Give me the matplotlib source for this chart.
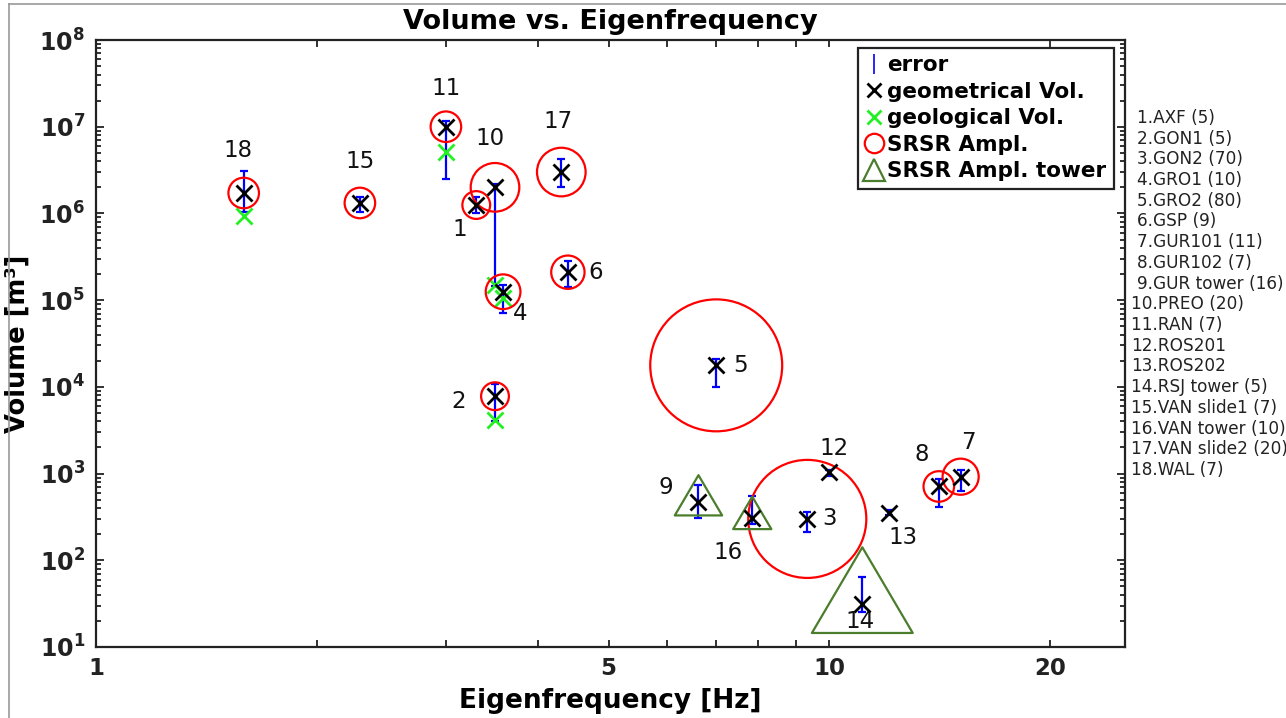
import numpy as np
import matplotlib as mpl
mpl.use('Agg')
import matplotlib.pyplot as plt
from matplotlib.lines import Line2D
from matplotlib.path import Path
from matplotlib.ticker import FixedLocator, LogLocator, NullFormatter, FuncFormatter

mpl.rc('font', family='DejaVu Sans')
mpl.rcParams['mathtext.default'] = 'bf'

# one entry per site, site number = index + 1
site_names = ['AXF (5)', 'GON1 (5)', 'GON2 (70)', 'GRO1 (10)', 'GRO2 (80)', 'GSP (9)',
              'GUR101 (11)', 'GUR102 (7)', 'GUR tower (16)', 'PREO (20)', 'RAN (7)',
              'ROS201', 'ROS202', 'RSJ tower (5)', 'VAN slide1 (7)', 'VAN tower (10)',
              'VAN slide2 (20)', 'WAL (7)']
freq_hz = [3.30, 3.50, 9.33, 3.59, 7.01, 4.40, 15.1, 14.1, 6.63, 3.50, 3.00,
           10.0, 12.07, 11.09, 2.29, 7.85, 4.31, 1.59]
vol_geom = [1.25e6, 7.8e3, 300, 1.25e5, 1.77e4, 2.1e5, 920, 710, 470, 2.0e6, 1.0e7,
            1.05e3, 355, 31, 1.32e6, 305, 3.0e6, 1.72e6]
vol_lo = [1.0e6, 4.0e3, 210, 7.2e4, 1.0e4, 1.4e5, 625, 410, 306, 1.44e5, 2.5e6,
          950, 330, 25, 1.03e6, 263, 2.0e6, 1.03e6]
vol_hi = [1.56e6, 1.07e4, 360, 1.5e5, 2.07e4, 2.8e5, 1090, 860, 730, 2.2e6, 1.15e7,
          1.1e3, 380, 64, 1.56e6, 550, 4.2e6, 3.1e6]
nan = np.nan
vol_geol = [nan, 4.1e3, nan, 1.07e5, nan, nan, nan, nan, nan, 1.5e5, 5.1e6,
            nan, nan, nan, nan, nan, nan, 9.4e5]
srsr_amp = [5, 5, 70, 10, 80, 9, 11, 7, nan, 20, 7, nan, nan, nan, 7, nan, 20, 7]
srsr_tower_amp = [nan] * 8 + [16] + [nan] * 4 + [51] + [nan] + [10] + [nan, nan]

# label offsets (pixels, dx right, dy down) for the site numbers
label_off = {1: (-17, 24), 2: (-36, 5), 3: (22, 0), 4: (17, 22), 5: (24, 0), 6: (28, 0),
             7: (8, -34), 8: (-17, -32), 9: (-33, -15), 10: (-5, -49), 11: (0, -38),
             12: (5, -23), 13: (14, 25), 14: (-2, 17), 15: (0, -41), 16: (-24, 34),
             17: (-3, -51), 18: (-6, -43)}

freq = np.array(freq_hz)
vol = np.array(vol_geom)
amp = np.array(srsr_amp, dtype=float)
tamp = np.array(srsr_tower_amp, dtype=float)

W, H = 1286, 718
PX = 72 / 100.0  # points per pixel
fig = plt.figure(figsize=(W / 100, H / 100), dpi=100)
ax = fig.add_axes([96 / W, 1 - 647 / H, (1125 - 96) / W, (647 - 40) / H])
ax.set_xscale('log')
ax.set_yscale('log')
ax.set_xlim(1, 25.3)
ax.set_ylim(10, 1e8)

ax.errorbar(freq, vol, yerr=[vol - np.array(vol_lo), np.array(vol_hi) - vol], fmt='none',
            ecolor='#0000ff', elinewidth=1.6, capsize=3, capthick=1.6, zorder=2)
ax.plot(freq, vol_geol, ls='none', marker='x', color='#22f022', ms=11, mew=2, zorder=3)

m = ~np.isnan(amp)
ax.scatter(freq[m], vol[m], s=(15 + amp[m]) ** 2, facecolors='none', edgecolors='#ff0000',
           linewidths=1.6, zorder=4)

# triangle with its centroid at the data point
tri = Path([(0, 1.133), (-1, -0.567), (1, -0.567), (0, 1.133)],
           [Path.MOVETO, Path.LINETO, Path.LINETO, Path.CLOSEPOLY])
t = ~np.isnan(tamp)
ax.scatter(freq[t], vol[t], s=(1.246 * (15 + tamp[t])) ** 2, marker=tri, facecolors='none',
           edgecolors='#4a7d2c', linewidths=1.6, zorder=4)

ax.plot(freq, vol, ls='none', marker='x', color='k', ms=11, mew=2, zorder=5)

for i, (f, v) in enumerate(zip(freq, vol)):
    dx, dy = label_off[i + 1]
    ax.annotate(str(i + 1), (f, v), xytext=(dx * PX, -dy * PX), textcoords='offset points',
                ha='center', va='center', fontsize=16.5, color='#111111')

# axes styling
ax.xaxis.set_major_locator(FixedLocator([1, 2, 3, 4, 5, 6, 7, 8, 9, 10, 20]))
ax.xaxis.set_minor_locator(FixedLocator([]))
ax.xaxis.set_major_formatter(FuncFormatter(lambda x, p: '%d' % x if x in (1, 5, 10, 20) else ''))
ax.yaxis.set_major_locator(LogLocator(base=10, numticks=20))
ax.yaxis.set_minor_locator(LogLocator(base=10, subs=np.arange(2, 10), numticks=20))
ax.yaxis.set_minor_formatter(NullFormatter())
ax.yaxis.set_major_formatter(FuncFormatter(lambda y, p: r'$10^{%d}$' % round(np.log10(y))))
ax.tick_params(which='both', direction='in', top=True, right=True, width=1.3, colors='#222222')
ax.tick_params(axis='x', which='major', length=5, pad=7, labelsize=16.5)
ax.tick_params(axis='y', which='major', length=6, pad=8, labelsize=17)
ax.tick_params(axis='y', which='minor', length=3.5)
for lab in ax.get_xticklabels():
    lab.set_fontweight('bold')
for sp in ax.spines.values():
    sp.set_linewidth(1.6)
    sp.set_color('#222222')

ax.set_xlabel('Eigenfrequency [Hz]', fontsize=19, fontweight='bold', labelpad=6)
ax.set_ylabel('Volume [m³]', fontsize=18.5, fontweight='bold', labelpad=6)
ax.set_title('Volume vs. Eigenfrequency', fontsize=19.5, fontweight='bold', pad=8)

handles = [
    Line2D([], [], ls='none', marker='|', color='#0000ff', ms=14, mew=1.2),
    Line2D([], [], ls='none', marker='x', color='k', ms=10, mew=2),
    Line2D([], [], ls='none', marker='x', color='#22f022', ms=10, mew=2),
    Line2D([], [], ls='none', marker='o', mfc='none', mec='#ff0000', ms=14, mew=1.6),
    Line2D([], [], ls='none', marker='^', mfc='none', mec='#4a7d2c', ms=16, mew=1.6),
]
labels = ['error', 'geometrical Vol.', 'geological Vol.', 'SRSR Ampl.', 'SRSR Ampl. tower']
leg = ax.legend(handles, labels, loc='upper right', bbox_to_anchor=(0.989, 0.987),
                borderaxespad=0, prop=dict(weight='bold', size=15.5), fancybox=False,
                edgecolor='#222222', framealpha=1, handlelength=0.8, handletextpad=0.2,
                borderpad=0.35, labelspacing=0.3)
leg.get_frame().set_linewidth(1.6)

for i, name in enumerate(site_names):
    x0 = 1137 if i < 9 else 1131
    fig.text(x0 / W, 1 - (118 + i * 20.7) / H, '%d.%s' % (i + 1, name), fontsize=12.2,
             ha='left', va='center', color='#222222')

# grey frame around the figure
fig.add_artist(Line2D([9 / W, 9 / W], [0, 1 - 4 / H], color='#999999', lw=1.2))
fig.add_artist(Line2D([9 / W, 1], [1 - 4 / H, 1 - 4 / H], color='#999999', lw=1.2))

fig.savefig('out.png', dpi=100)
